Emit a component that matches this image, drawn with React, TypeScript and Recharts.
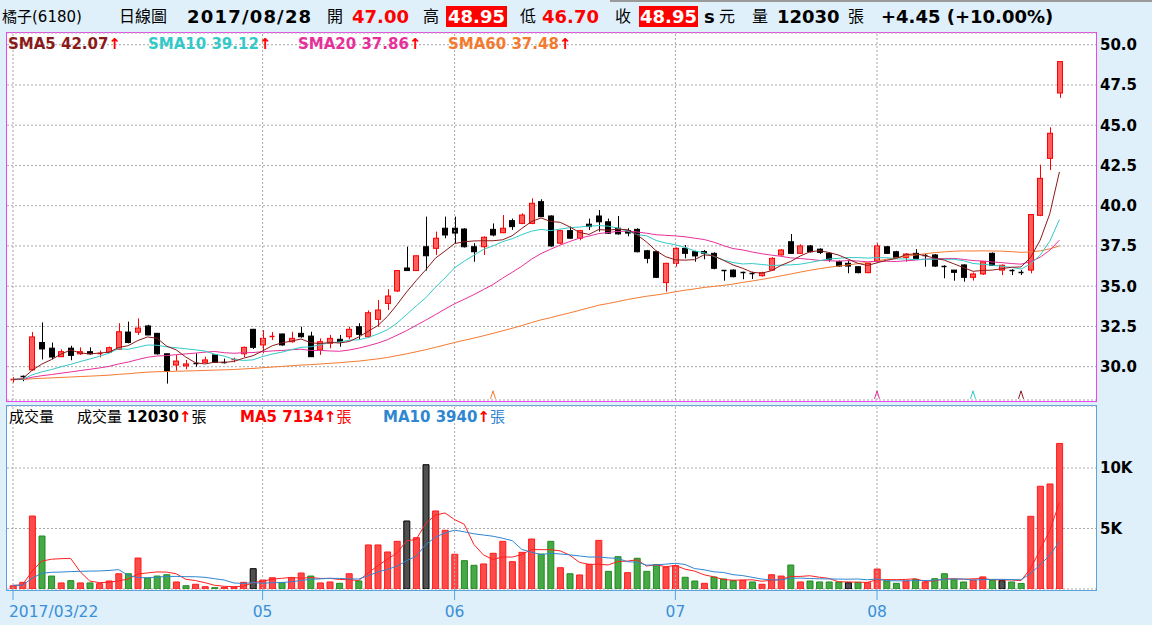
import React from "react";
import {
  ComposedChart,
  Bar,
  Line,
  XAxis,
  YAxis,
  CartesianGrid,
  ReferenceLine,
  ReferenceDot,
  Cell,
} from "recharts";

// trading days per month, 2017
const marDays = [22, 23, 24, 27, 28, 29, 30, 31];
const aprDays = [5, 6, 7, 10, 11, 12, 13, 14, 17, 18, 19, 20, 21, 24, 25, 26, 27, 28];
const mayDays = [2, 3, 4, 5, 8, 9, 10, 11, 12, 15, 16, 17, 18, 19, 22, 23, 24, 25, 26, 31];
const junDays = [1, 2, 3, 5, 6, 7, 8, 9, 12, 13, 14, 15, 16, 19, 20, 21, 22, 23, 26, 27, 28, 29, 30];
const julDays = [3, 4, 5, 6, 7, 10, 11, 12, 13, 14, 17, 18, 19, 20, 21, 24, 25, 26, 27, 28, 31];
const augDays = [1, 2, 3, 4, 7, 8, 9, 10, 11, 14, 15, 16, 17, 18, 21, 22, 23, 24, 25, 28];

// months that get a label + grid line (April is not labelled in the source)
const labelledMonths = ["05", "06", "07", "08"];

const opens = [
  29.2, 29.45, 29.8, 31.5, 31.15, 30.62, 31.15, 30.8, 30.93, 30.78,
  30.9, 31.08, 32.15, 32.14, 32.53, 32.07, 30.8, 30.1, 30.05, 30.22,
  30.27, 30.73, 30.32, 30.38, 30.8, 32.32, 31.35, 31.8, 32.03, 31.55,
  32.07, 31.9, 31.04, 31.45, 31.7, 31.86, 32.48, 31.86, 32.94, 33.93,
  34.7, 36.13, 35.97, 37.45, 37.35, 38.6, 38.6, 38.55, 37.45, 37.45,
  38.53, 38.32, 39.07, 38.9, 38.9, 40.25, 39.36, 37.67, 38.45, 37.98,
  38.85, 39.36, 39.0, 38.6, 38.45, 38.53, 37.2, 37.14, 35.22, 36.42,
  37.35, 37.14, 37.15, 37.04, 36.0, 36.0, 35.86, 35.82, 35.65, 36.0,
  36.94, 37.76, 37.04, 37.5, 37.3, 37.04, 36.52, 36.42, 36.21, 35.84,
  36.58, 37.45, 37.14, 36.79, 37.04, 36.95, 36.94, 36.27, 36.0, 36.32,
  35.55, 35.76, 37.04, 36.0, 36.02, 35.9, 36.0, 39.4, 42.94, 47.0,
];
const highs = [
  29.35, 29.45, 32.15, 32.75, 31.5, 31.08, 31.3, 31.2, 31.2, 31.0,
  31.25, 32.7, 32.8, 33.0, 32.6, 32.1, 30.8, 30.73, 30.42, 30.83,
  30.62, 30.75, 30.5, 30.55, 31.25, 32.35, 32.28, 32.15, 32.05, 32.17,
  32.48, 32.17, 31.76, 31.97, 31.97, 32.48, 32.7, 33.5, 34.14, 34.81,
  36.0, 37.45, 36.9, 39.32, 38.39, 39.32, 39.32, 38.6, 37.67, 38.1,
  38.9, 39.42, 39.2, 39.53, 40.46, 40.4, 39.4, 38.5, 38.7, 38.5,
  39.2, 39.73, 39.2, 39.36, 38.6, 38.6, 37.25, 37.2, 36.45, 37.4,
  37.56, 37.2, 37.25, 37.1, 36.0, 36.05, 35.9, 35.9, 35.9, 36.8,
  37.3, 38.24, 37.6, 37.55, 37.35, 37.1, 36.6, 36.6, 36.25, 36.45,
  37.7, 37.5, 37.2, 37.05, 37.3, 37.0, 37.0, 36.3, 36.0, 36.35,
  35.85, 36.55, 37.1, 36.35, 36.05, 36.0, 39.45, 42.55, 44.87, 48.95,
];
const lows = [
  29.0, 29.1, 29.75, 30.45, 30.45, 30.6, 30.4, 30.73, 30.75, 30.58,
  30.88, 31.05, 31.45, 31.97, 31.95, 30.75, 28.95, 29.75, 29.84, 30.0,
  30.25, 30.25, 30.2, 30.27, 30.6, 31.1, 30.83, 31.65, 31.3, 31.5,
  31.8, 30.6, 30.73, 31.14, 31.24, 31.7, 31.66, 31.8, 32.48, 33.52,
  34.65, 35.95, 35.95, 35.97, 36.94, 37.98, 37.67, 37.4, 36.52, 36.94,
  38.1, 38.3, 38.5, 38.85, 38.85, 39.3, 37.45, 37.6, 37.95, 37.85,
  38.49, 38.39, 38.25, 38.2, 38.1, 37.1, 36.42, 35.5, 34.66, 36.21,
  36.73, 36.52, 36.67, 36.05, 35.34, 35.55, 35.43, 35.45, 35.6, 35.95,
  36.9, 37.0, 37.0, 37.1, 37.0, 36.52, 36.2, 35.8, 35.8, 35.8,
  36.5, 37.0, 36.75, 36.52, 36.7, 36.21, 36.2, 35.49, 35.34, 35.28,
  35.35, 35.7, 36.25, 35.69, 35.69, 35.69, 35.8, 39.35, 42.22, 46.7,
];
const closes = [
  29.25, 29.4, 31.85, 31.1, 30.6, 30.93, 30.7, 30.93, 30.8, 30.87,
  31.18, 32.17, 31.5, 32.4, 31.97, 30.8, 29.7, 30.35, 30.17, 30.2,
  30.42, 30.27, 30.28, 30.45, 31.2, 31.2, 31.76, 31.88, 31.35, 31.76,
  31.86, 30.62, 31.55, 31.76, 31.55, 32.32, 32.01, 33.35, 33.52, 34.39,
  35.97, 35.97, 36.89, 36.89, 37.98, 38.18, 38.3, 37.45, 37.14, 38.04,
  38.18, 38.6, 38.7, 39.42, 40.15, 39.32, 37.5, 38.45, 37.98, 38.45,
  38.7, 39.0, 38.29, 38.25, 38.3, 37.14, 36.73, 35.55, 36.42, 37.35,
  37.04, 36.88, 37.05, 36.11, 35.97, 35.59, 35.84, 35.8, 35.84, 36.73,
  37.25, 37.04, 37.5, 37.14, 37.1, 36.67, 36.25, 36.25, 35.84, 36.42,
  37.5, 37.04, 36.79, 37.0, 36.73, 36.92, 36.25, 36.2, 35.86, 35.55,
  35.76, 36.52, 36.3, 36.3, 36.0, 35.86, 39.45, 41.7, 44.5, 48.95,
];
// volume in 張
const volumes = [
  270, 550, 6030, 4380, 1070, 500, 690, 500, 500, 440,
  660, 1260, 1260, 2560, 910, 1070, 1180, 580, 270, 390,
  190, 110, 140, 140, 550, 1680, 740, 930, 520, 930,
  1320, 1070, 500, 580, 470, 1260, 660, 3640, 3640, 3060,
  3940, 5620, 4240, 10270, 6450, 4850, 2870, 2340, 1960, 2070,
  2950, 3940, 2260, 3030, 4130, 2890, 3940, 1760, 1260, 1160,
  2040, 4020, 1460, 2670, 1350, 2540, 1460, 2010, 1820, 1930,
  970, 660, 470, 990, 830, 690, 720, 580, 390, 1180,
  1070, 1980, 580, 660, 580, 580, 580, 520, 550, 520,
  1650, 660, 470, 660, 800, 580, 850, 1260, 770, 580,
  740, 1000, 720, 690, 580, 460, 6010, 8490, 8680, 12030,
];

const PRIOR_CLOSE = 29.2;
const PRIOR_VOLUME = 300;

const priceTicks = [30, 32.5, 35, 37.5, 40, 42.5, 45, 47.5, 50];
const volumeTicks = [5000, 10000];

const FONT = '"DejaVu Sans", "Noto Sans CJK TC", sans-serif';
const UP = "#ff0000";
const SMA5_C = "#8b1a1a";
const SMA10_C = "#33c9c9";
const SMA20_C = "#e8309a";
const SMA60_C = "#f47a30";
const VMA5_C = "#ff2020";
const VMA10_C = "#2f86d2";
const GRID = "#a8a8a8";
const AXIS_BLUE = "#5ba3dd";

const dates: string[] = [
  ...marDays.map((d) => `2017/03/${String(d).padStart(2, "0")}`),
  ...aprDays.map((d) => `2017/04/${String(d).padStart(2, "0")}`),
  ...mayDays.map((d) => `2017/05/${String(d).padStart(2, "0")}`),
  ...junDays.map((d) => `2017/06/${String(d).padStart(2, "0")}`),
  ...julDays.map((d) => `2017/07/${String(d).padStart(2, "0")}`),
  ...augDays.map((d) => `2017/08/${String(d).padStart(2, "0")}`),
];

function movingAvg(values: number[], n: number, prior: number) {
  return values.map((_, i) => {
    let s = 0;
    for (let k = i - n + 1; k <= i; k++) s += k < 0 ? prior : values[k];
    return s / n;
  });
}

const sma5 = movingAvg(closes, 5, PRIOR_CLOSE);
const sma10 = movingAvg(closes, 10, PRIOR_CLOSE);
const sma20 = movingAvg(closes, 20, PRIOR_CLOSE);
const sma60 = movingAvg(closes, 60, PRIOR_CLOSE);
const vma5 = movingAvg(volumes, 5, PRIOR_VOLUME);
const vma10 = movingAvg(volumes, 10, PRIOR_VOLUME);

const rows = dates.map((date, i) => {
  const prev = i === 0 ? PRIOR_CLOSE : closes[i - 1];
  return {
    date,
    open: opens[i],
    high: highs[i],
    low: lows[i],
    close: closes[i],
    range: [lows[i], highs[i]],
    volume: volumes[i],
    volDir: closes[i] > prev ? 1 : closes[i] < prev ? -1 : 0,
    sma5: sma5[i],
    sma10: sma10[i],
    sma20: sma20[i],
    sma60: sma60[i],
    vma5: vma5[i],
    vma10: vma10[i],
  };
});

// first date + first trading day of each labelled month
const monthStarts = dates.filter(
  (d, i) => i === 0 || (d.slice(5, 7) !== dates[i - 1].slice(5, 7) && labelledMonths.includes(d.slice(5, 7)))
);

// crossover markers at the bottom of the price panel
const markers = [
  { date: dates[50], color: SMA60_C },
  { date: dates[90], color: SMA20_C },
  { date: dates[100], color: SMA10_C },
  { date: dates[105], color: SMA5_C },
];

const Candle = (props: any) => {
  const { x, y, width, height, payload } = props;
  const { open, close, high, low } = payload;
  const up = close > open;
  const color = up ? UP : "#000";
  const top = Math.min(y, y + height);
  const h = Math.abs(height);
  const toY = (v: number) => (high === low ? top : top + ((high - v) / (high - low)) * h);
  const cx = Math.round(x + width / 2) + 0.5;
  const bTop = toY(Math.max(open, close));
  const bBot = toY(Math.min(open, close));
  const left = Math.round(x) + 0.5;
  return (
    <g>
      <line x1={cx} x2={cx} y1={top} y2={top + h} stroke={color} strokeWidth={1} />
      {bBot - bTop < 1.5 ? (
        <line x1={left} x2={left + 5} y1={Math.round(bTop) + 0.5} y2={Math.round(bTop) + 0.5} stroke={color} strokeWidth={1.5} />
      ) : (
        <rect x={left} y={bTop} width={5} height={bBot - bTop} fill={up ? "#ff5c5c" : "#000"} stroke={color} strokeWidth={1} />
      )}
    </g>
  );
};

const Caret = (props: any) => {
  const { cx, cy, color } = props;
  return <path d={`M${cx - 2.5},${cy + 4} L${cx},${cy - 4} L${cx + 2.5},${cy + 4}`} fill="none" stroke={color} strokeWidth={1} />;
};

const DateTick = (props: any) => {
  const { x, y, payload, index } = props;
  const first = index === 0;
  const label = first ? payload.value : payload.value.slice(5, 7);
  return (
    <text x={first ? x - 4 : x} y={y} dy={15} textAnchor={first ? "start" : "middle"} fill="#3a8fd6" fontSize={15.5} fontFamily={FONT}>
      {label}
    </text>
  );
};

const abs = (left: number, top: number, extra: React.CSSProperties = {}): React.CSSProperties => ({
  position: "absolute",
  left,
  top,
  whiteSpace: "nowrap",
  ...extra,
});

const XPAD = { left: 1.2, right: 31.8 };

export default function App() {
  const hdr = { lineHeight: "22px", fontSize: 16 };
  const bold18 = { fontWeight: 700, fontSize: 18, lineHeight: "22px" };
  return (
    <div
      style={{
        position: "absolute",
        left: 0,
        top: 0,
        width: 1152,
        height: 625,
        background: "#dff0fb",
        fontFamily: FONT,
        overflow: "hidden",
      }}
    >
      <div style={abs(610, 0, { width: 542, height: 2, background: "#9a9a9a" })} />

      {/* header */}
      <span style={abs(2, 6, { ...hdr, fontSize: 15 })}>橘子(6180)</span>
      <span style={abs(119, 6, hdr)}>日線圖</span>
      <span style={abs(187, 6, { ...bold18, letterSpacing: 1.2 })}>2017/08/28</span>
      <span style={abs(327, 6, hdr)}>開</span>
      <span style={abs(352, 6, { ...bold18, color: UP })}>47.00</span>
      <span style={abs(423, 6, hdr)}>高</span>
      <span style={abs(446, 6, { ...bold18, color: "#fff", background: UP, width: 61, height: 21, textAlign: "center" })}>48.95</span>
      <span style={abs(520, 6, hdr)}>低</span>
      <span style={abs(542, 6, { ...bold18, color: UP })}>46.70</span>
      <span style={abs(615, 6, hdr)}>收</span>
      <span style={abs(639, 6, { ...bold18, color: "#fff", background: UP, width: 59, height: 21, textAlign: "center" })}>48.95</span>
      <span style={abs(704, 6, bold18)}>s</span>
      <span style={abs(719, 6, hdr)}>元</span>
      <span style={abs(752, 6, hdr)}>量</span>
      <span style={abs(777, 6, bold18)}>12030</span>
      <span style={abs(848, 6, hdr)}>張</span>
      <span style={abs(881, 6, bold18)}>+4.45 (+10.00%)</span>

      {/* panel frames */}
      <div style={abs(6, 32, { width: 1091, height: 370, boxSizing: "border-box", border: "1px solid #ee44ee", background: "#fff" })} />
      <div style={abs(6, 405, { width: 1091, height: 186, boxSizing: "border-box", border: `1px solid ${AXIS_BLUE}`, background: "#fff" })} />

      {/* price panel */}
      <div style={abs(0, 0)}>
        <ComposedChart width={1152} height={410} data={rows} margin={{ top: 33, right: 6, left: 7, bottom: 10 }}>
          <CartesianGrid vertical={false} stroke={GRID} strokeDasharray="2 2" />
          <XAxis dataKey="date" type="category" hide padding={XPAD} />
          <YAxis
            orientation="right"
            width={50}
            domain={[27.93, 50.727]}
            ticks={priceTicks}
            interval={0}
            allowDataOverflow
            axisLine={false}
            tickLine={false}
            tickSize={0}
            tickMargin={4}
            tickFormatter={(v: number) => v.toFixed(1)}
            tick={{ fill: "#000", fontSize: 15, fontWeight: 700, fontFamily: FONT }}
          />
          {monthStarts.map((d) => (
            <ReferenceLine key={d} x={d} stroke={GRID} strokeDasharray="2 2" />
          ))}
          <Line dataKey="sma60" stroke={SMA60_C} dot={false} strokeWidth={1} isAnimationActive={false} />
          <Line dataKey="sma20" stroke={SMA20_C} dot={false} strokeWidth={1} isAnimationActive={false} />
          <Line dataKey="sma10" stroke={SMA10_C} dot={false} strokeWidth={1} isAnimationActive={false} />
          <Line dataKey="sma5" stroke={SMA5_C} dot={false} strokeWidth={1} isAnimationActive={false} />
          <Bar dataKey="range" barSize={6} shape={Candle} isAnimationActive={false} />
          {markers.map((m) => (
            <ReferenceDot key={m.date} x={m.date} y={28.25} r={0} shape={(p: any) => <Caret {...p} color={m.color} />} />
          ))}
        </ComposedChart>
      </div>

      {/* price legend */}
      <div style={abs(8, 35, { fontSize: 15, fontWeight: 700, lineHeight: "18px" })}>
        <span style={abs(0, 0, { color: SMA5_C })}>SMA5 42.07<span style={{ color: UP }}>↑</span></span>
        <span style={abs(140, 0, { color: SMA10_C })}>SMA10 39.12<span style={{ color: UP }}>↑</span></span>
        <span style={abs(290, 0, { color: SMA20_C })}>SMA20 37.86<span style={{ color: UP }}>↑</span></span>
        <span style={abs(440, 0, { color: SMA60_C })}>SMA60 37.48<span style={{ color: UP }}>↑</span></span>
      </div>

      {/* volume panel */}
      <div style={abs(0, 400)}>
        <ComposedChart width={1152} height={225} data={rows} margin={{ top: 6, right: 6, left: 7, bottom: 6 }}>
          <CartesianGrid vertical={false} stroke={GRID} strokeDasharray="2 2" />
          <XAxis
            dataKey="date"
            type="category"
            padding={XPAD}
            height={30}
            ticks={monthStarts}
            interval={0}
            axisLine={false}
            tickLine={{ stroke: AXIS_BLUE }}
            tickSize={11}
            tickMargin={2}
            tick={<DateTick />}
          />
          <YAxis
            orientation="right"
            width={50}
            domain={[0, 15124]}
            ticks={volumeTicks}
            interval={0}
            allowDataOverflow
            axisLine={false}
            tickLine={false}
            tickSize={0}
            tickMargin={4}
            tickFormatter={(v: number) => `${v / 1000}K`}
            tick={{ fill: "#000", fontSize: 15, fontWeight: 700, fontFamily: FONT }}
          />
          {monthStarts.map((d) => (
            <ReferenceLine key={d} x={d} stroke={GRID} strokeDasharray="2 2" />
          ))}
          <Bar dataKey="volume" barSize={6} isAnimationActive={false}>
            {rows.map((r) => (
              <Cell
                key={r.date}
                fill={r.volDir > 0 ? "#ff4a4a" : r.volDir < 0 ? "#46a846" : "#505050"}
                stroke={r.volDir > 0 ? "#ff1a1a" : r.volDir < 0 ? "#1f8a1f" : "#000"}
              />
            ))}
          </Bar>
          <Line dataKey="vma5" stroke={VMA5_C} dot={false} strokeWidth={1} isAnimationActive={false} />
          <Line dataKey="vma10" stroke={VMA10_C} dot={false} strokeWidth={1} isAnimationActive={false} />
        </ComposedChart>
      </div>

      {/* volume legend */}
      <div style={abs(0, 408, { fontSize: 15, lineHeight: "19px" })}>
        <span style={abs(9, 0)}>成交量</span>
        <span style={abs(77, 0)}>
          成交量 <b>12030</b>
          <span style={{ color: UP, fontWeight: 700 }}>↑</span>張
        </span>
        <span style={abs(240, 0, { color: UP })}>
          <b>MA5 7134</b>
          <b>↑</b>張
        </span>
        <span style={abs(383, 0, { color: VMA10_C })}>
          <b>MA10 3940</b>
          <b style={{ color: UP }}>↑</b>張
        </span>
      </div>
    </div>
  );
}
